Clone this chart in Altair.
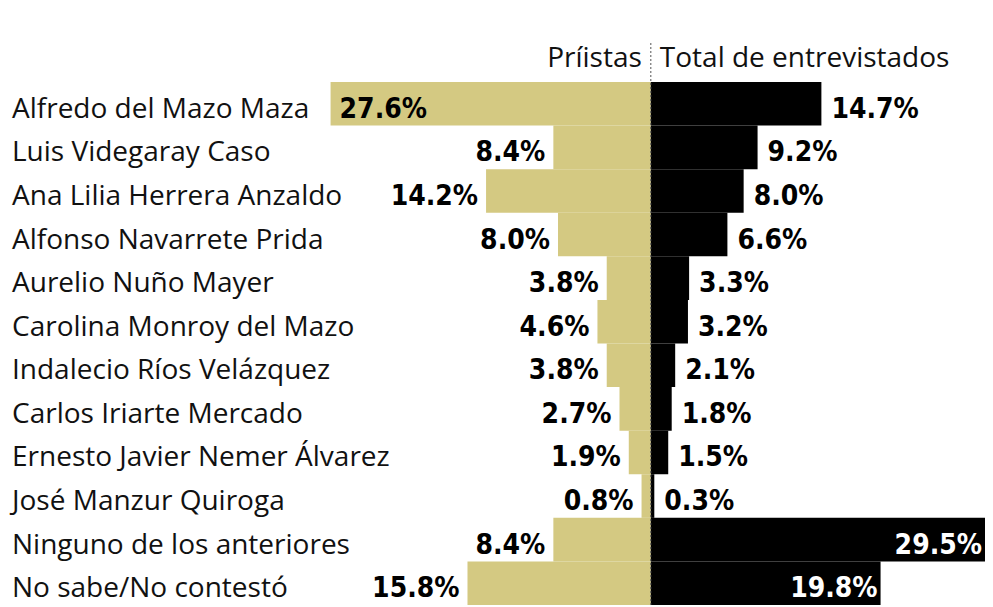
import altair as alt
import pandas as pd

names = ["Alfredo del Mazo Maza", "Luis Videgaray Caso", "Ana Lilia Herrera Anzaldo",
         "Alfonso Navarrete Prida", "Aurelio Nuño Mayer", "Carolina Monroy del Mazo",
         "Indalecio Ríos Velázquez", "Carlos Iriarte Mercado", "Ernesto Javier Nemer Álvarez",
         "José Manzur Quiroga", "Ninguno de los anteriores", "No sabe/No contestó"]
priistas = [27.6, 8.4, 14.2, 8.0, 3.8, 4.6, 3.8, 2.7, 1.9, 0.8, 8.4, 15.8]
total = [14.7, 9.2, 8.0, 6.6, 3.3, 3.2, 2.1, 1.8, 1.5, 0.3, 29.5, 19.8]
header_left = "Príistas"
header_right = "Total de entrevistados"

rows = []
for i, n in enumerate(names):
    rows.append(dict(name=n, order=i, group="P", value=priistas[i], sx=-priistas[i],
                     label=f"{priistas[i]:.1f}%", inside=priistas[i] > 20))
    rows.append(dict(name=n, order=i, group="T", value=total[i], sx=total[i],
                     label=f"{total[i]:.1f}%", inside=total[i] > 15))
df = pd.DataFrame(rows)

W, H = 977, 523
xs = alt.Scale(domain=[-55.4, 28.8], range=[0, W], nice=False, zero=False, clamp=True)
ys = alt.Scale(domain=names, paddingInner=0, paddingOuter=0)
X = alt.X("sx:Q", scale=xs, axis=None)
Y = alt.Y("name:N", scale=ys, axis=None, sort=names)

base = alt.Chart(df)

bars = base.mark_bar(cornerRadius=0).encode(
    x=X, x2=alt.datum(0), y=Y,
    color=alt.Color("group:N", scale=alt.Scale(domain=["P", "T"], range=["#D4C982", "#000000"]), legend=None),
)

VFONT = "DejaVu Sans Condensed, DejaVu Sans"
VSIZE = 28
TFONT = "Open Sans"
TSIZE = 28

def vtext(filt, align, dx, color):
    return base.transform_filter(filt).mark_text(
        align=align, baseline="alphabetic", dx=dx, dy=14, font=VFONT, fontSize=VSIZE,
        fontWeight="bold", color=color
    ).encode(x=X, y=Y, text="label:N")

t1 = vtext("datum.group == 'P' && !datum.inside", "right", -8, "#000000")
t2 = vtext("datum.group == 'P' && datum.inside", "left", 9, "#000000")
t3 = vtext("datum.group == 'T' && !datum.inside", "left", 10, "#000000")
t4 = vtext("datum.group == 'T' && datum.inside", "right", -3, "#ffffff")

cats = base.transform_filter("datum.group == 'P'").mark_text(
    align="left", baseline="alphabetic", dy=14, font=TFONT, fontSize=TSIZE, color="#111111"
).encode(x=alt.value(4), y=Y, text="name:N")

hl = alt.Chart(pd.DataFrame({"t": [header_left]})).mark_text(
    align="right", baseline="alphabetic", dx=-9, font=TFONT, fontSize=TSIZE, color="#111111"
).encode(x=alt.datum(0, scale=xs), y=alt.value(-15), text="t:N")
hr = alt.Chart(pd.DataFrame({"t": [header_right]})).mark_text(
    align="left", baseline="alphabetic", dx=9, font=TFONT, fontSize=TSIZE, color="#111111"
).encode(x=alt.datum(0, scale=xs), y=alt.value(-15), text="t:N")

rule = alt.Chart(pd.DataFrame({"z": [0]})).mark_rule(
    strokeDash=[2, 2], color="#555555", strokeWidth=1
).encode(x=alt.X("z:Q", scale=xs, axis=None), y=alt.value(-39), y2=alt.value(H))

chart = alt.layer(bars, rule, t1, t2, t3, t4, cats, hl, hr).properties(
    width=W, height=H,
    autosize=alt.AutoSizeParams(type="none"),
    padding={"left": 0, "top": 74, "right": 0, "bottom": 2},
).configure_view(stroke=None)

chart.save("out.html", embed_options={"renderer": "svg", "actions": False})
